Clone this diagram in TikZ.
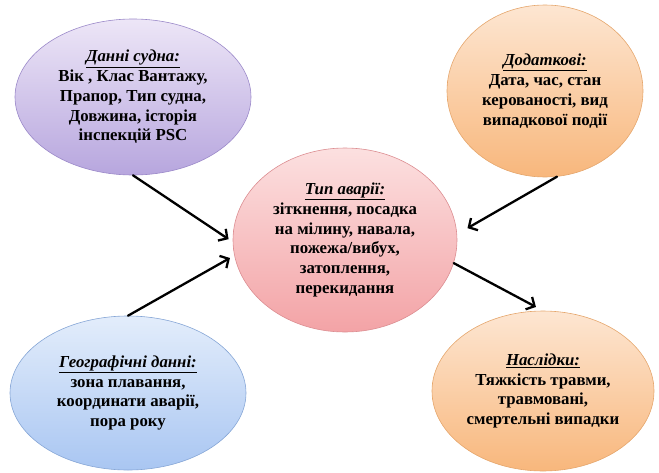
\documentclass[tikz,border=0pt]{standalone}
\usepackage{fontspec}
\setmainfont{Liberation Serif}
\usetikzlibrary{shapes.geometric,arrows.meta,shadings}
\definecolor{lilacT}{HTML}{EDE6F7}
\definecolor{lilacB}{HTML}{B7A6DE}
\definecolor{lilacL}{HTML}{9B89C9}
\definecolor{peachT}{HTML}{FDE6D2}
\definecolor{peachB}{HTML}{F8B77C}
\definecolor{peachL}{HTML}{E5A66C}
\definecolor{roseT}{HTML}{FCE0E0}
\definecolor{roseB}{HTML}{F3A3A6}
\definecolor{roseL}{HTML}{DC8E92}
\definecolor{skyT}{HTML}{E3EDFB}
\definecolor{skyB}{HTML}{A9C6F2}
\definecolor{skyL}{HTML}{86A6D6}
\begin{document}
\begin{tikzpicture}[x=1pt,y=-1pt,line join=round,line cap=round,
    oval/.style={ellipse,draw,line width=0.6pt,inner sep=0pt,align=center,
      font=\fontsize{16.8}{19.8}\selectfont\bfseries},
    arr/.style={-{Straight Barb[length=6.5pt,width=14pt]},line width=2.3pt,shorten >=5pt}]
  \useasboundingbox (0,0) rectangle (659,472);
  %Еліпси
  \node[oval,draw=lilacL,top color=lilacT,bottom color=lilacB,
    minimum width=236pt,minimum height=156pt] (ship) at (133,97)
    {\underline{\textit{Данні судна:}}\\Вік , Клас Вантажу,\\Прапор, Тип судна,\\Довжина, історія\\інспекцій PSC};
  \node[oval,draw=peachL,top color=peachT,bottom color=peachB,
    minimum width=196pt,minimum height=172pt] (extra) at (545,91)
    {\underline{\textit{Додаткові:}}\\Дата, час, стан\\керованості, вид\\випадкової події};
  \node[oval,draw=roseL,top color=roseT,bottom color=roseB,
    minimum width=224pt,minimum height=184pt] (acc) at (345,240)
    {\underline{\textit{Тип аварії:}}\\зіткнення, посадка\\на мілину, навала,\\пожежа/вибух,\\затоплення,\\перекидання};
  \node[oval,draw=skyL,top color=skyT,bottom color=skyB,
    minimum width=236pt,minimum height=154pt] (geo) at (128,393)
    {\underline{\textit{Географічні данні:}}\\зона плавання,\\координати аварії,\\пора року};
  \node[oval,draw=peachL,top color=peachT,bottom color=peachB,
    minimum width=222pt,minimum height=160pt] (cons) at (543,391)
    {\underline{\textit{Наслідки:}}\\Тяжкість травми,\\травмовані,\\смертельні випадки};
  %Стрілки
  \draw[arr] (ship.south) -- (acc.181);
  \draw[arr] (geo.north) -- (acc.188);
  \draw[arr,shorten >=12pt] (extra.-82) -- (acc.3);
  \draw[arr,shorten >=8pt] (acc.-12) -- (cons.north);
\end{tikzpicture}
\end{document}
